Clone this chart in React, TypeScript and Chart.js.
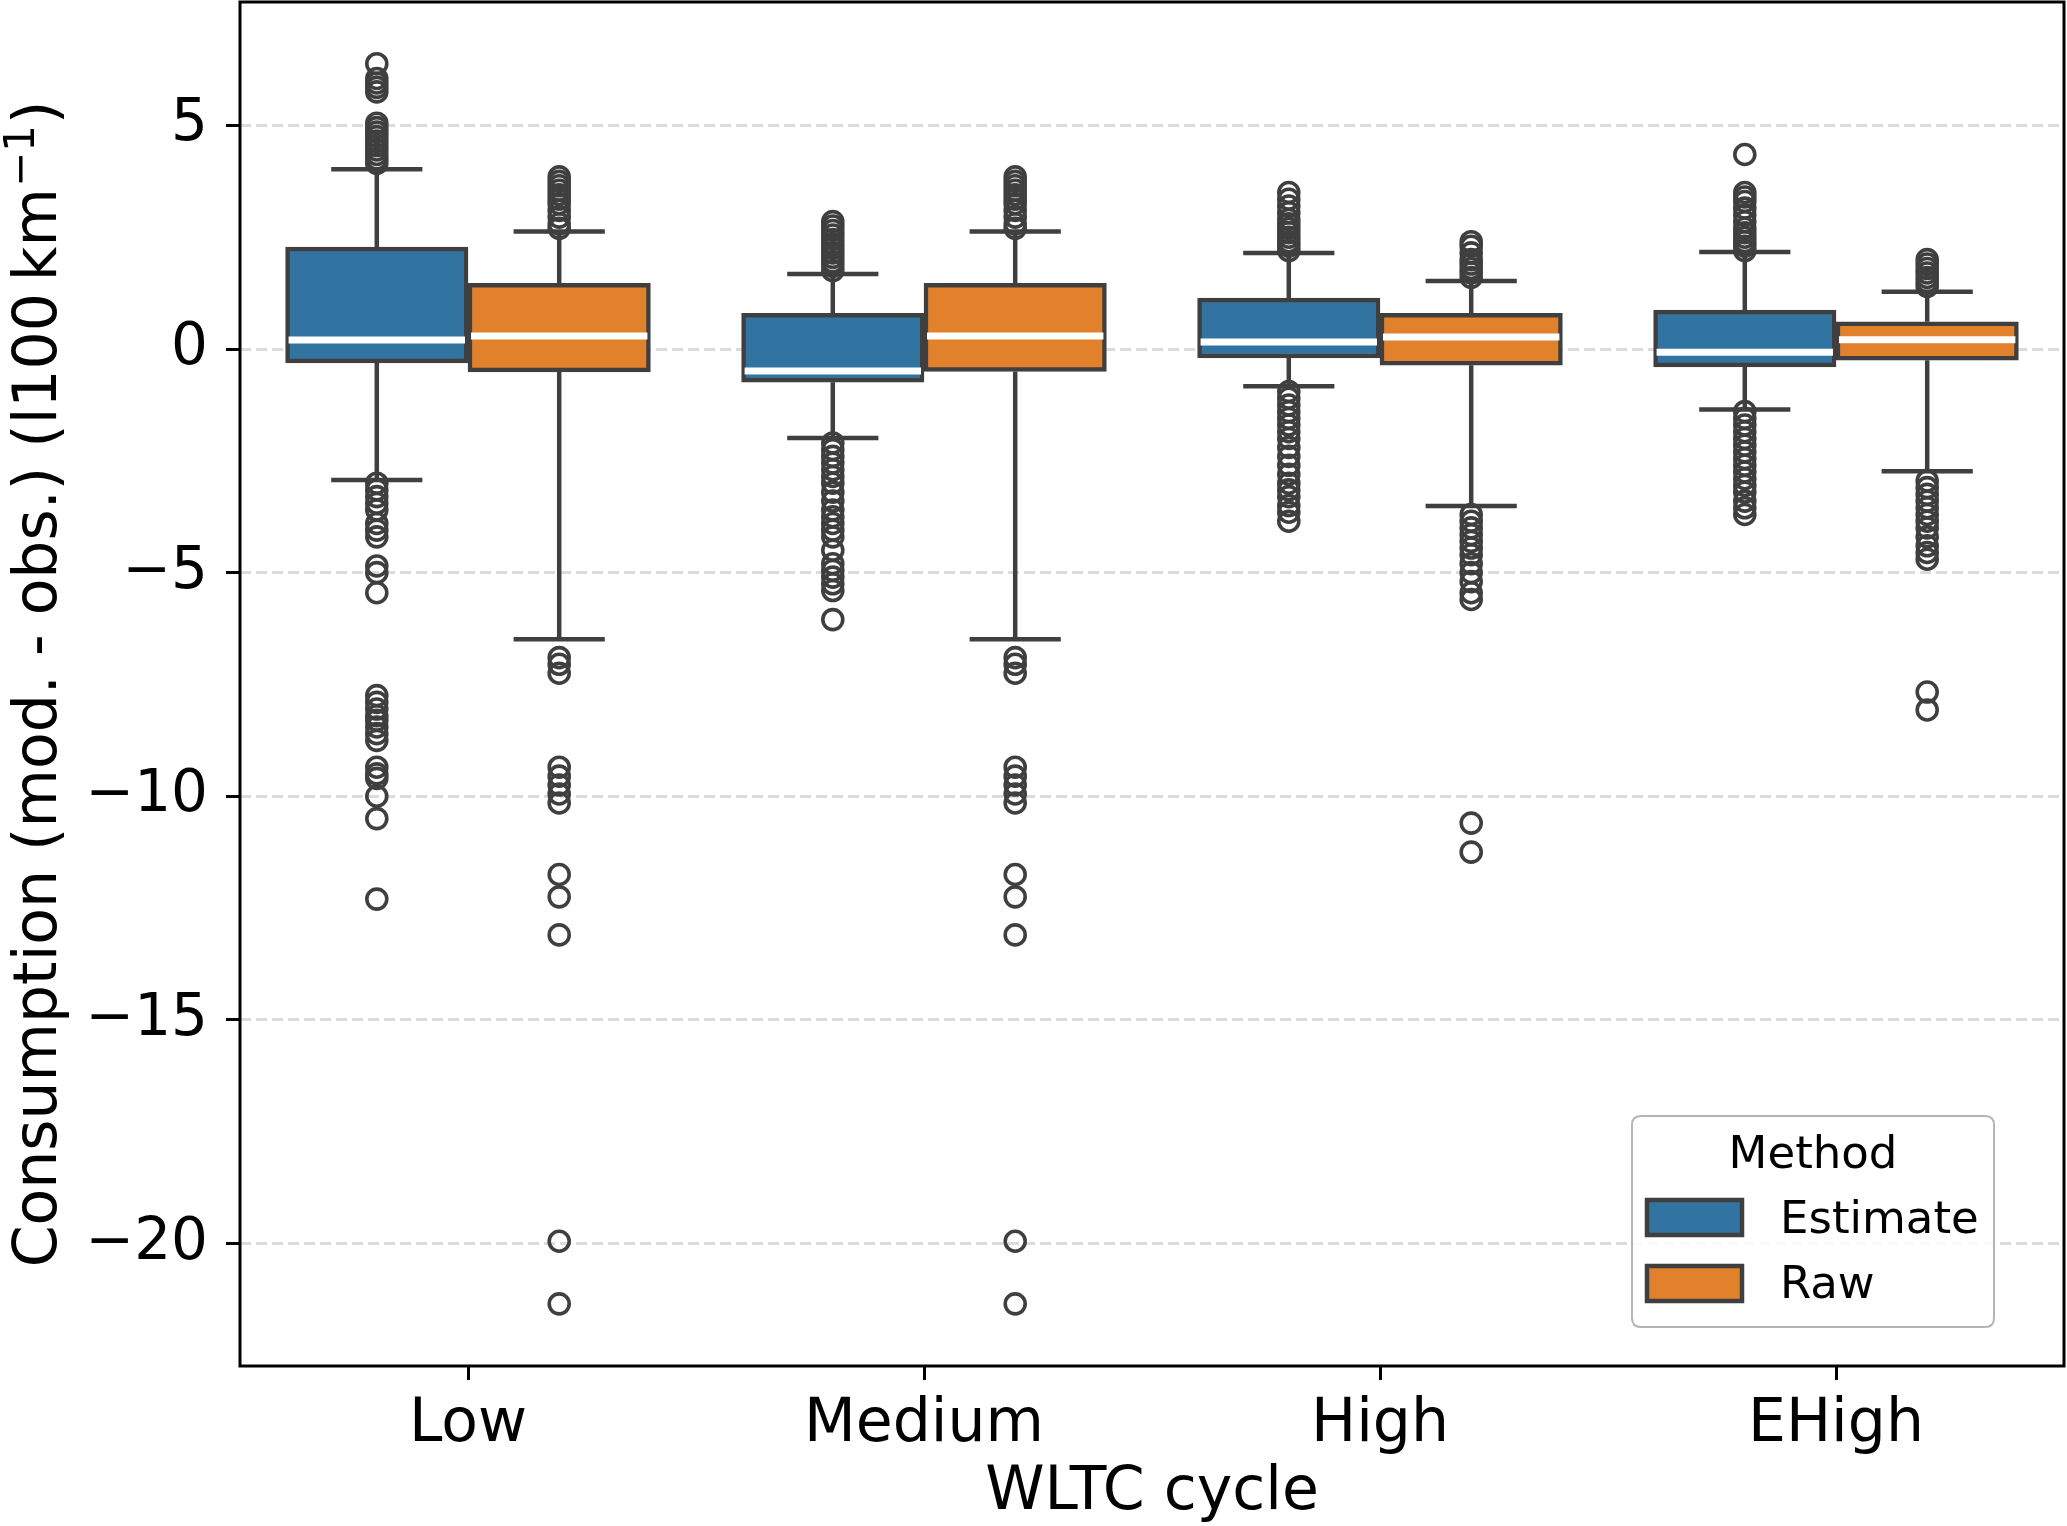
import React, { useEffect, useRef } from 'react';
import { Chart, registerables } from 'chart.js';

Chart.register(...registerables);

// ---------- data ----------
const categories = ['Low', 'Medium', 'High', 'EHigh'];
const methods = ['Estimate', 'Raw'];

const estimateQ1 = [-0.31, -0.74, -0.2, -0.4];
const estimateMedian = [0.2, -0.49, 0.16, -0.07];
const estimateQ3 = [2.28, 0.8, 1.14, 0.87];
const estimateWhiskerLow = [-2.93, -1.99, -0.83, -1.35];
const estimateWhiskerHigh = [4.02, 1.68, 2.15, 2.17];

const rawQ1 = [-0.51, -0.5, -0.36, -0.25];
const rawMedian = [0.29, 0.29, 0.27, 0.21];
const rawQ3 = [1.47, 1.47, 0.8, 0.61];
const rawWhiskerLow = [-6.49, -6.49, -3.51, -2.73];
const rawWhiskerHigh = [2.63, 2.63, 1.52, 1.28];

const estimateOutliersLow = [
  6.38, 6.05, 5.95, 5.85, 5.75, 5.05, 4.95, 4.85, 4.75, 4.65, 4.55, 4.45, 4.35, 4.25, 4.15,
  -3.0, -3.15, -3.3, -3.45, -3.6, -3.9, -4.05, -4.2, -4.85, -5.0, -5.45,
  -7.75, -7.9, -8.05, -8.2, -8.3, -8.45, -8.6, -8.75, -9.35, -9.5, -9.6, -10.0, -10.5, -12.3,
];
const estimateOutliersMedium = [
  2.85, 2.75, 2.65, 2.55, 2.45, 2.35, 2.25, 2.15, 2.05, 1.95, 1.85, 1.75,
  -2.1, -2.25, -2.4, -2.55, -2.7, -2.85, -3.0, -3.2, -3.4, -3.6, -3.75, -3.9, -4.05, -4.2,
  -4.5, -4.8, -4.95, -5.1, -5.25, -5.4, -6.05,
];
const estimateOutliersHigh = [
  3.5, 3.35, 3.2, 3.05, 2.9, 2.8, 2.7, 2.6, 2.5, 2.4, 2.3, 2.2,
  -0.95, -1.1, -1.25, -1.4, -1.55, -1.7, -1.85, -2.0, -2.2, -2.4, -2.6, -2.8, -3.0, -3.15,
  -3.3, -3.5, -3.65, -3.85,
];
const estimateOutliersEHigh = [
  4.35, 3.5, 3.4, 3.3, 3.15, 3.0, 2.85, 2.7, 2.6, 2.5, 2.4, 2.3, 2.2,
  -1.4, -1.55, -1.7, -1.85, -2.0, -2.15, -2.3, -2.45, -2.6, -2.75, -2.9, -3.05, -3.2, -3.4,
  -3.55, -3.7,
];

const rawOutliersLow = [
  3.85, 3.75, 3.65, 3.55, 3.45, 3.35, 3.25, 3.1, 2.95, 2.8, 2.7,
  -6.9, -7.05, -7.25, -9.35, -9.55, -9.75, -9.95, -10.15, -11.75, -12.25, -13.1, -19.95, -21.35,
];
const rawOutliersMedium = [
  3.85, 3.75, 3.65, 3.55, 3.45, 3.35, 3.25, 3.1, 2.95, 2.8, 2.7,
  -6.9, -7.05, -7.25, -9.35, -9.55, -9.75, -9.95, -10.15, -11.75, -12.25, -13.1, -19.95, -21.35,
];
const rawOutliersHigh = [
  2.4, 2.3, 2.15, 2.0, 1.9, 1.8, 1.7, 1.6,
  -3.7, -3.85, -4.0, -4.15, -4.3, -4.45, -4.6, -4.8, -5.0, -5.2, -5.45, -5.6, -10.6, -11.25,
];
const rawOutliersEHigh = [
  2.0, 1.9, 1.8, 1.7, 1.6, 1.5, 1.4,
  -2.95, -3.1, -3.25, -3.4, -3.55, -3.7, -3.85, -4.0, -4.2, -4.4, -4.55, -4.7, -7.67, -8.07,
];

const estimateOutliers = [estimateOutliersLow, estimateOutliersMedium, estimateOutliersHigh, estimateOutliersEHigh];
const rawOutliers = [rawOutliersLow, rawOutliersMedium, rawOutliersHigh, rawOutliersEHigh];

const yTicks = [-20, -15, -10, -5, 0, 5];
const yMin = -22.74;
const yMax = 7.76;

const xTitle = 'WLTC cycle';
const yTitleMain = 'Consumption (mod. - obs.) (l100\u2009km';
const yTitleSup = '\u22121';
const yTitleEnd = ')';
const legendTitle = 'Method';

// ---------- style ----------
const FONT = "'DejaVu Sans', 'Liberation Sans', sans-serif";
const BLUE = '#3274a1';
const ORANGE = '#e1812c';
const EDGE = '#3f3f3f';
const W = 2067;
const H = 1526;
const BOX_W = 0.4; // width of one box in category units (hue dodge)

const groups = [
  { q1: estimateQ1, med: estimateMedian, q3: estimateQ3, lo: estimateWhiskerLow, hi: estimateWhiskerHigh, outl: estimateOutliers, color: BLUE, shift: -BOX_W / 2 },
  { q1: rawQ1, med: rawMedian, q3: rawQ3, lo: rawWhiskerLow, hi: rawWhiskerHigh, outl: rawOutliers, color: ORANGE, shift: BOX_W / 2 },
];

const boxPartsPlugin = {
  id: 'boxParts',
  beforeDatasetsDraw(chart: any) {
    const { ctx } = chart;
    const xs = chart.scales.x;
    const ys = chart.scales.y;
    ctx.save();
    ctx.strokeStyle = EDGE;
    ctx.lineWidth = 4.5;
    ctx.lineCap = 'butt';
    groups.forEach((g) => {
      categories.forEach((_, i) => {
        const cx = xs.getPixelForValue(i + g.shift);
        const capL = xs.getPixelForValue(i + g.shift - BOX_W / 4);
        const capR = xs.getPixelForValue(i + g.shift + BOX_W / 4);
        const yq1 = ys.getPixelForValue(g.q1[i]);
        const yq3 = ys.getPixelForValue(g.q3[i]);
        const ylo = ys.getPixelForValue(g.lo[i]);
        const yhi = ys.getPixelForValue(g.hi[i]);
        ctx.beginPath();
        ctx.moveTo(cx, yq3);
        ctx.lineTo(cx, yhi);
        ctx.moveTo(cx, yq1);
        ctx.lineTo(cx, ylo);
        ctx.moveTo(capL, yhi);
        ctx.lineTo(capR, yhi);
        ctx.moveTo(capL, ylo);
        ctx.lineTo(capR, ylo);
        ctx.stroke();
      });
    });
    ctx.restore();
  },
  afterDatasetsDraw(chart: any) {
    const { ctx } = chart;
    const xs = chart.scales.x;
    const ys = chart.scales.y;
    ctx.save();
    ctx.strokeStyle = '#ffffff';
    ctx.lineWidth = 7;
    groups.forEach((g) => {
      categories.forEach((_, i) => {
        const l = xs.getPixelForValue(i + g.shift - BOX_W / 2) + 3;
        const r = xs.getPixelForValue(i + g.shift + BOX_W / 2) - 3;
        const y = ys.getPixelForValue(g.med[i]);
        ctx.beginPath();
        ctx.moveTo(l, y);
        ctx.lineTo(r, y);
        ctx.stroke();
      });
    });
    ctx.restore();
  },
  afterDraw(chart: any) {
    const { ctx, chartArea } = chart;
    const { left, right, top, bottom } = chartArea;
    ctx.save();
    // frame (all four spines)
    ctx.strokeStyle = '#000000';
    ctx.lineWidth = 3;
    ctx.strokeRect(left, top, right - left, bottom - top);

    // y-axis title with superscript, rotated
    const mainFont = `60px ${FONT}`;
    const supFont = `42px ${FONT}`;
    ctx.font = mainFont;
    const wMain = ctx.measureText(yTitleMain).width;
    const wEnd = ctx.measureText(yTitleEnd).width;
    ctx.font = supFont;
    const wSup = ctx.measureText(yTitleSup).width;
    const total = wMain + wSup + wEnd + 2;
    const cy = (top + bottom) / 2;
    ctx.save();
    ctx.translate(56, cy + total / 2);
    ctx.rotate(-Math.PI / 2);
    ctx.fillStyle = '#000000';
    ctx.textAlign = 'left';
    ctx.textBaseline = 'alphabetic';
    ctx.font = mainFont;
    ctx.fillText(yTitleMain, 0, 0);
    ctx.font = supFont;
    ctx.fillText(yTitleSup, wMain + 1, -22);
    ctx.font = mainFont;
    ctx.fillText(yTitleEnd, wMain + wSup + 2, 0);
    ctx.restore();

    // legend
    const fx = right - 432;
    const fy = bottom - 250;
    const fw = 362;
    const fh = 211;
    const rad = 9;
    ctx.beginPath();
    ctx.moveTo(fx + rad, fy);
    ctx.lineTo(fx + fw - rad, fy);
    ctx.quadraticCurveTo(fx + fw, fy, fx + fw, fy + rad);
    ctx.lineTo(fx + fw, fy + fh - rad);
    ctx.quadraticCurveTo(fx + fw, fy + fh, fx + fw - rad, fy + fh);
    ctx.lineTo(fx + rad, fy + fh);
    ctx.quadraticCurveTo(fx, fy + fh, fx, fy + fh - rad);
    ctx.lineTo(fx, fy + rad);
    ctx.quadraticCurveTo(fx, fy, fx + rad, fy);
    ctx.closePath();
    ctx.fillStyle = 'rgba(255,255,255,0.85)';
    ctx.fill();
    ctx.strokeStyle = '#b5b5b5';
    ctx.lineWidth = 2;
    ctx.stroke();

    ctx.fillStyle = '#000000';
    ctx.font = `45px ${FONT}`;
    ctx.textAlign = 'center';
    ctx.textBaseline = 'alphabetic';
    ctx.fillText(legendTitle, right - 251, bottom - 198);

    const patchTops = [bottom - 166, bottom - 100];
    const baselines = [bottom - 133, bottom - 68];
    methods.forEach((m, k) => {
      ctx.fillStyle = groups[k].color;
      ctx.fillRect(right - 417, patchTops[k], 95, 35);
      ctx.strokeStyle = EDGE;
      ctx.lineWidth = 4.5;
      ctx.strokeRect(right - 417, patchTops[k], 95, 35);
      ctx.fillStyle = '#000000';
      ctx.textAlign = 'left';
      ctx.fillText(m, right - 284, baselines[k]);
    });
    ctx.restore();
  },
};

const fmt = (v: number) => (v < 0 ? '\u2212' + Math.abs(v) : String(v));

export default function App() {
  const ref = useRef<HTMLCanvasElement | null>(null);

  useEffect(() => {
    if (!ref.current) return;

    const datasets: any[] = [];
    groups.forEach((g, k) => {
      datasets.push({
        type: 'bar',
        label: methods[k],
        data: categories.map((_, i) => ({ x: i + g.shift, y: [g.q1[i], g.q3[i]] })),
        backgroundColor: g.color,
        borderColor: EDGE,
        borderWidth: 4.5,
        borderSkipped: false,
        grouped: false,
        categoryPercentage: 1.0,
        barPercentage: 1.0,
        order: 2,
      });
    });
    groups.forEach((g, k) => {
      const pts: { x: number; y: number }[] = [];
      g.outl.forEach((arr, i) => {
        arr.forEach((v) => pts.push({ x: i + g.shift, y: v }));
      });
      datasets.push({
        type: 'scatter',
        label: methods[k] + ' outliers',
        data: pts,
        pointRadius: 10,
        pointBorderWidth: 3.6,
        pointBorderColor: EDGE,
        pointBackgroundColor: 'rgba(0,0,0,0)',
        showLine: false,
        order: 0,
      });
    });

    const chart = new Chart(ref.current, {
      type: 'bar',
      data: { datasets },
      options: {
        animation: false,
        responsive: false,
        devicePixelRatio: 1,
        events: [],
        layout: { autoPadding: false, padding: { top: 2, right: 3, left: 0, bottom: 0 } },
        plugins: { legend: { display: false }, tooltip: { enabled: false } },
        scales: {
          x: {
            type: 'linear',
            min: -0.5,
            max: 3.5,
            offset: false,
            afterFit: (s: any) => {
              s.height = 160;
              s.paddingLeft = 0;
              s.paddingRight = 0;
            },
            afterBuildTicks: (s: any) => {
              s.ticks = categories.map((_, i) => ({ value: i }));
            },
            grid: {
              display: true,
              drawOnChartArea: false,
              drawTicks: true,
              offset: false,
              tickLength: 14,
              tickWidth: 3,
              tickColor: '#000000',
              color: '#000000',
            },
            border: { display: false },
            ticks: {
              color: '#000000',
              font: { family: FONT, size: 60 },
              padding: 9,
              maxRotation: 0,
              autoSkip: false,
              callback: (v: any) => categories[Math.round(Number(v))] ?? '',
            },
            title: {
              display: true,
              text: xTitle,
              color: '#000000',
              font: { family: FONT, size: 60, lineHeight: 1.1 },
              padding: { top: 0, bottom: 0 },
            },
          },
          y: {
            type: 'linear',
            min: yMin,
            max: yMax,
            afterFit: (s: any) => {
              s.width = 240;
              s.paddingTop = 0;
              s.paddingBottom = 0;
            },
            afterBuildTicks: (s: any) => {
              s.ticks = yTicks.map((v) => ({ value: v }));
            },
            grid: {
              display: true,
              drawOnChartArea: true,
              color: '#dcdcdc',
              lineWidth: 3,
              tickLength: 14,
              tickWidth: 3,
              tickColor: '#000000',
              tickBorderDash: [],
            },
            border: { display: false, dash: [11, 5] },
            ticks: {
              color: '#000000',
              font: { family: FONT, size: 58 },
              padding: 18,
              callback: (v: any) => fmt(Number(v)),
            },
            title: { display: false },
          },
        },
      },
      plugins: [boxPartsPlugin],
    } as any);

    return () => chart.destroy();
  }, []);

  return (
    <div style={{ position: 'absolute', left: 0, top: 0, width: W, height: H, background: '#ffffff' }}>
      <canvas ref={ref} width={W} height={H} style={{ width: W, height: H, display: 'block' }} />
    </div>
  );
}
